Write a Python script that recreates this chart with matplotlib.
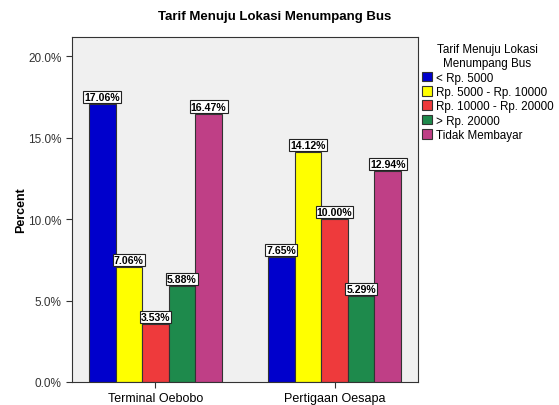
import matplotlib.pyplot as plt
import numpy as np

plt.rcParams["font.family"] = ["Liberation Sans", "DejaVu Sans"]

categories = ["Terminal Oebobo", "Pertigaan Oesapa"]
series_names = ["< Rp. 5000", "Rp. 5000 - Rp. 10000", "Rp. 10000 - Rp. 20000",
                "> Rp. 20000", "Tidak Membayar"]
values = [
    [17.06, 7.65],
    [7.06, 14.12],
    [3.53, 10.00],
    [5.88, 5.29],
    [16.47, 12.94],
]
colors = ["#0000cc", "#ffff00", "#ee3a3c", "#1e8a4c", "#bf3f86"]
yticks = [0, 5, 10, 15, 20]

fig = plt.figure(figsize=(5.59, 4.06), dpi=100)
ax = fig.add_axes([72 / 559, 23 / 406, 346 / 559, 345 / 406])
ax.set_facecolor("#f0f0f0")

x = np.arange(len(categories))
width = 0.1486
n = len(series_names)
handles = []
for i, (name, vals, col) in enumerate(zip(series_names, values, colors)):
    pos = x + (i - (n - 1) / 2) * width
    b = ax.bar(pos, vals, width, color=col, edgecolor="#333333", linewidth=0.8, label=name)
    handles.append(b)
    for px, v in zip(pos, vals):
        ax.annotate(f"{v:.2f}%", (px, v), xytext=(0, 1.5), textcoords="offset points",
                    ha="center", va="bottom", fontsize=7.6, fontweight="bold",
                    bbox=dict(boxstyle="square,pad=0.1", fc="white", ec="#222222", lw=0.8))

ax.set_xlim(-0.466, 1.466)
ax.set_ylim(0, 21.17)
ax.set_xticks(x)
ax.set_xticklabels(categories, fontsize=9)
ax.set_yticks(yticks)
ax.set_yticklabels([f"{t:.1f}%" for t in yticks], fontsize=8.5, color="#333333")
ax.tick_params(axis="both", length=4, color="#333333")
ax.set_ylabel("Percent", fontsize=9, fontweight="bold", labelpad=1)
for s in ax.spines.values():
    s.set_color("#333333")
    s.set_linewidth(0.8)

fig.text(275 / 559, 1 - 17 / 406, "Tarif Menuju Lokasi Menumpang Bus", ha="center",
         va="center", fontsize=9.5, fontweight="bold")

leg = fig.legend(handles=handles, loc="upper left", bbox_to_anchor=(418 / 559, 1 - 41 / 406),
                 frameon=False, fontsize=8.4, title="Tarif Menuju Lokasi\nMenumpang Bus",
                 title_fontsize=8.4, handlelength=0.9, handleheight=0.9, handletextpad=0.3,
                 labelspacing=0.2, borderaxespad=0, borderpad=0.3)
leg.get_title().set_multialignment("center")

fig.savefig("out.png", dpi=100, facecolor="white")
